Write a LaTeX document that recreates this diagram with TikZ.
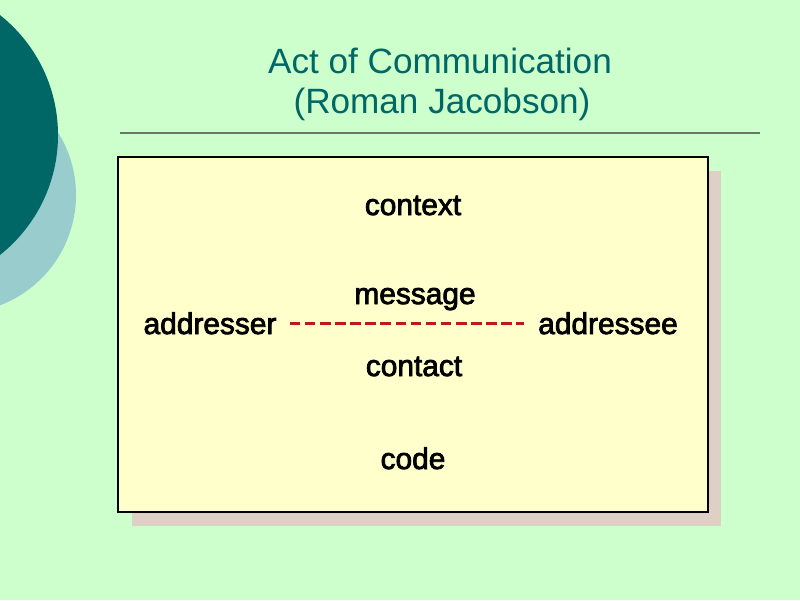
\documentclass[tikz,border=0pt]{standalone}
\usepackage{fontspec}
\setmainfont{Liberation Sans}
\newfontfamily\boxfont{Liberation Sans}[FakeBold=2.6]
\usepackage{tikz}
\usetikzlibrary{positioning,calc}
\definecolor{slidebg}{RGB}{204,255,204}
\definecolor{darkteal}{RGB}{0,102,102}
\definecolor{paleteal}{RGB}{153,204,204}
\definecolor{boxfill}{RGB}{255,255,204}
\definecolor{boxshadow}{RGB}{222,208,196}
\definecolor{rulegray}{RGB}{100,120,100}
\definecolor{linkred}{RGB}{190,25,25}
\tikzset{
  titletext/.style={font=\fontsize{20pt}{21.5pt}\selectfont, text=darkteal, align=center, inner sep=0pt},
  factor/.style={font=\boxfont\fontsize{17pt}{18pt}\selectfont, anchor=base, inner sep=0pt},
  party/.style={font=\boxfont\fontsize{17pt}{18pt}\selectfont, anchor=base, inner sep=0pt},
  channel/.style={draw=linkred, line width=2pt, dash pattern=on 6pt off 2.6pt}
}

\begin{document}
\begin{tikzpicture}[x=0.02cm, y=-0.02cm]
  \useasboundingbox[fill=slidebg] (0,0) rectangle (800,600);
  % decoration circles on the left
  \fill[paleteal] (-42,195) circle[radius=118];
  \fill[darkteal] (-95,135) circle[radius=153];
  % title
  \node[titletext, anchor=base] (title) at (440,73) {Act of Communication};
  \node[titletext, anchor=base] (author) at (442,113) {(Roman Jacobson)};
  \draw[rulegray, line width=1.1pt] (120,133) -- (760,133);
  % the box
  \fill[boxshadow] (132,171) rectangle (721,526);
  \draw[black, line width=1.1pt, fill=boxfill] (118,157) rectangle (708,512);
  \node[factor] (context) at (413,215) {context};
  \node[factor] (message) at (415,304) {message};
  \node[factor] (contact) at (414,376) {contact};
  \node[factor] (code) at (413,469) {code};
  \node[party] (addresser) at (210,334) {addresser};
  \node[party] (addressee) at (608,334) {addressee};
  \draw[channel] ($(addresser.east)+(13,0)$) -- ($(addressee.west)+(-14,0)$);
\end{tikzpicture}
\end{document}
